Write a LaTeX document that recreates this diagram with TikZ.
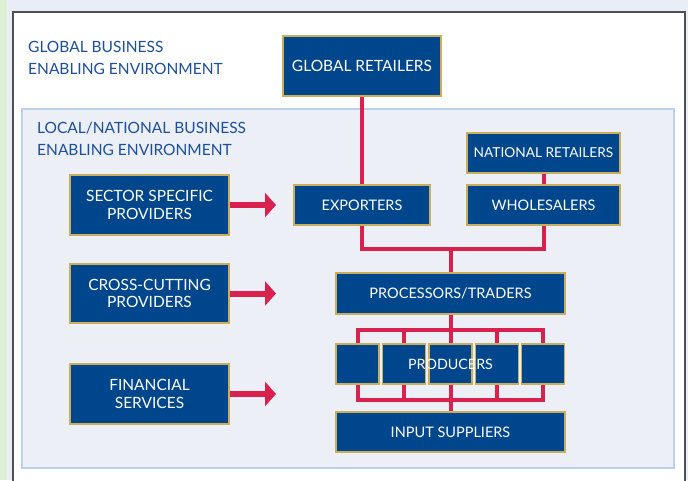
\documentclass[tikz,border=0pt]{standalone}
\usepackage{fontspec}
\setmainfont{Lato}
\usetikzlibrary{arrows.meta}
\definecolor{boxblue}{HTML}{00468C}
\definecolor{boxgold}{HTML}{C9AE5D}
\definecolor{linkred}{HTML}{D8214C}
\definecolor{labelblue}{HTML}{1C4F9C}
\definecolor{innerfill}{HTML}{ECEFF6}
\definecolor{innerline}{HTML}{BBCFEA}
\definecolor{stripgreen}{HTML}{DDEFD2}
\definecolor{stripblue}{HTML}{E9EEF6}
\definecolor{framegrey}{HTML}{505050}
\tikzset{
  actor/.style={draw=boxgold, line width=1.2pt, fill=boxblue, text=white,
    align=center, inner sep=0pt, font=\fontsize{14.5}{17}\selectfont},
  bigtext/.style={font=\fontsize{15.5}{17.5}\selectfont},
  envlabel/.style={anchor=west, align=left, text=labelblue, inner sep=0pt,
    font=\fontsize{15.5}{22}\selectfont},
  link/.style={draw=linkred, line width=4pt},
  push/.style={draw=linkred, line width=6pt, -{Triangle[length=11pt,width=24pt]}},
}
\begin{document}
\begin{tikzpicture}[x=1pt,y=-1pt]
\useasboundingbox (0,0) rectangle (688,480);
% page background strips
\fill[stripblue] (0,0) rectangle (688,480);
\fill[stripgreen] (0,0) rectangle (7,480);
% outer frame: global business enabling environment
\fill[white] (13,12) rectangle (685,482);
\draw[framegrey, line width=1.5pt] (13,484) -- (13,12) -- (685,12) -- (685,484);
% inner frame: local/national business enabling environment
\draw[innerline, fill=innerfill, line width=1.2pt] (22,109) rectangle (674,468);

\node[envlabel] (glab) at (28,58) {GLOBAL BUSINESS\\ENABLING ENVIRONMENT};
\node[envlabel] (llab) at (37,139) {LOCAL/NATIONAL BUSINESS\\ENABLING ENVIRONMENT};

% chain actors
\node[actor, bigtext, minimum width=158pt, minimum height=60pt] (gr) at (362,66) {GLOBAL RETAILERS};
\node[actor, font=\fontsize{13.7}{16}\selectfont, minimum width=153pt, minimum height=40pt] (nr) at (543.5,153) {NATIONAL RETAILERS};
\node[actor, minimum width=153pt, minimum height=40pt] (wh) at (543.5,205) {WHOLESALERS};
\node[actor, minimum width=136pt, minimum height=40pt] (ex) at (362,205) {EXPORTERS};
\node[actor, minimum width=229pt, minimum height=41pt] (pt) at (450.5,293.5) {PROCESSORS/TRADERS};
\foreach \i/\x in {1/357.5,2/404,3/450.5,4/497,5/543}
  \node[actor, minimum width=43pt, minimum height=40pt] (p\i) at (\x,364) {};
\node[text=white, inner sep=0pt, font=\fontsize{14.3}{16}\selectfont] (prod) at (450.5,364) {PRODUCERS};
\node[actor, minimum width=229pt, minimum height=40pt] (is) at (450.5,432) {INPUT SUPPLIERS};

% support providers
\node[actor, bigtext, minimum width=159pt, minimum height=60pt] (ssp) at (149.5,205) {SECTOR SPECIFIC\\PROVIDERS};
\node[actor, bigtext, minimum width=159pt, minimum height=59pt] (ccp) at (149.5,293.5) {CROSS-CUTTING\\PROVIDERS};
\node[actor, bigtext, minimum width=159pt, minimum height=60pt] (fs) at (149.5,394) {FINANCIAL\\SERVICES};

% buses
\coordinate (busA) at (450.5,249);
\coordinate (busB) at (450.5,329.5);
\coordinate (busC) at (450.5,400);

\draw[link] (gr.south) -- (ex.north);
\draw[link] (nr.south) -- (wh.north);
\draw[link] (ex.south) -- (ex.south |- busA) -- (wh.south |- busA) -- (wh.south);
\draw[link] (busA) -- (pt.north);
\draw[link] (pt.south) -- (busB);
\draw[link] (p1.north) -- (p1.north |- busB) -- (p5.north |- busB) -- (p5.north);
\foreach \i in {2,3,4} \draw[link] (p\i.north |- busB) -- (p\i.north);
\draw[link] (p1.south) -- (p1.south |- busC) -- (p5.south |- busC) -- (p5.south);
\foreach \i in {2,3,4} \draw[link] (p\i.south) -- (p\i.south |- busC);
\draw[link] (busC) -- (is.north);

% arrows from providers into the chain
\coordinate (ta) at (276,205);
\coordinate (tb) at (276,293.5);
\coordinate (tc) at (276,394);
\draw[push] (ssp.east) -- (ta);
\draw[push] (ccp.east) -- (tb);
\draw[push] (fs.east) -- (tc);
\end{tikzpicture}
\end{document}
